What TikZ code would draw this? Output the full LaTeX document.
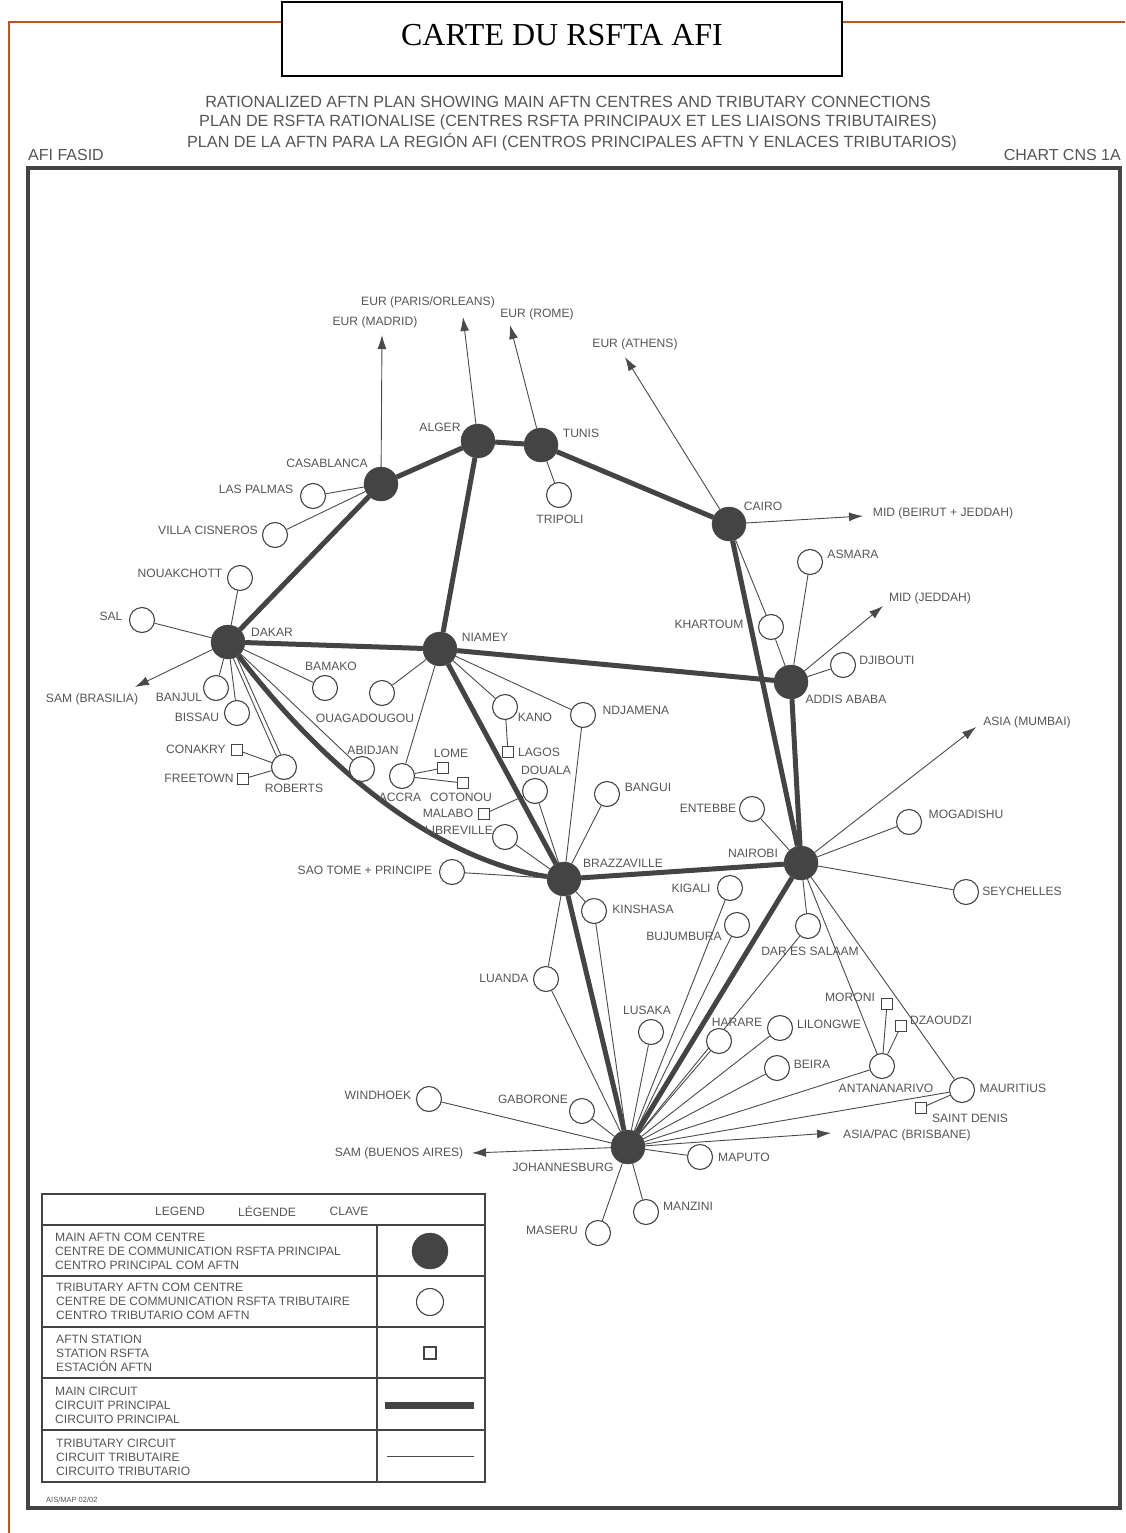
\documentclass[tikz,border=0pt]{standalone}
\usepackage{fontspec}
\setmainfont{Liberation Serif}
\newfontfamily\lbfam{Liberation Sans}
\usetikzlibrary{arrows.meta}
\definecolor{dk}{HTML}{444444}
\definecolor{ln}{HTML}{4a4a4a}
\definecolor{txt}{HTML}{555555}
\definecolor{brn}{HTML}{B4582A}
\pgfdeclarelayer{bg}
\pgfsetlayers{bg,main}
\newcommand\lbsize{\lbfam\fontsize{12.1}{14}\selectfont}
\begin{document}
\begin{tikzpicture}[x=1pt,y=-1pt,
  main/.style={circle,fill=dk,draw=dk,minimum size=34pt,inner sep=0pt},
  trib/.style={circle,draw=dk,line width=1.1pt,fill=white,minimum size=25pt,inner sep=0pt},
  stn/.style={rectangle,draw=dk,line width=1.1pt,fill=white,minimum size=11pt,inner sep=0pt},
  lbl/.style={font=\lbsize,text=txt,inner sep=0pt},
  hdr/.style={lbl,font=\lbfam\fontsize{16.2}{18}\selectfont},
  mainline/.style={line width=5pt,draw=dk},
  tline/.style={line width=0.9pt,draw=ln},
  extline/.style={tline,-{Latex[length=14pt,width=9pt]}},
  frame/.style={draw=dk,line width=1.5pt}]
\useasboundingbox (0,0) rectangle (1125,1533);
% outer brown frame and title
\draw[brn,line width=2pt] (282,22) -- (9,22) -- (9,1533);
\draw[brn,line width=2pt] (842,22) -- (1125,22);
\node[draw=black,line width=1.5pt,minimum width=560pt,minimum height=74pt,inner sep=0pt] (titlebox) at (562,39) {};
\node[inner sep=0pt,font=\fontsize{32}{36}\selectfont] (title) at (562,35) {CARTE DU RSFTA AFI};
% subtitle
\node[hdr] (sub1) at (568,102) {RATIONALIZED AFTN PLAN SHOWING MAIN AFTN CENTRES AND TRIBUTARY CONNECTIONS};
\node[hdr] (sub2) at (568,122) {PLAN DE RSFTA RATIONALISE (CENTRES RSFTA PRINCIPAUX ET LES LIAISONS TRIBUTAIRES)};
\node[hdr] (sub3) at (572,142) {PLAN DE LA AFTN PARA LA REGIÓN AFI (CENTROS PRINCIPALES AFTN Y ENLACES TRIBUTARIOS)};
\node[hdr,font=\lbfam\fontsize{16}{18}\selectfont,anchor=west] (fasid) at (28,155) {AFI FASID};
\node[hdr,font=\lbfam\fontsize{16}{18}\selectfont,anchor=east] (cns) at (1121,155) {CHART CNS 1A};
% inner frame
\draw[draw=dk,line width=3.5pt] (28,168) rectangle (1120,1508);

% main centres
\node[main] (alger) at (478,441) {};
\node[main] (tunis) at (541,445) {};
\node[main] (casa) at (381,484) {};
\node[main] (cairo) at (729,524) {};
\node[main] (dakar) at (228,642) {};
\node[main] (niamey) at (440,649) {};
\node[main] (addis) at (791,682) {};
\node[main] (brazza) at (564,879) {};
\node[main] (nairobi) at (801,863) {};
\node[main] (joburg) at (628,1147) {};
% tributary centres
\node[trib] (laspalmas) at (313,496) {};
\node[trib] (villa) at (275,535) {};
\node[trib] (tripoli) at (559,495) {};
\node[trib] (nouak) at (240,578) {};
\node[trib] (sal) at (142,620) {};
\node[trib] (bamako) at (325,688) {};
\node[trib] (ouaga) at (382,693) {};
\node[trib] (banjul) at (216,688) {};
\node[trib] (bissau) at (237,713) {};
\node[trib] (roberts) at (284,767) {};
\node[trib] (abidjan) at (362,769) {};
\node[trib] (accra) at (402,776) {};
\node[trib] (kano) at (505,707) {};
\node[trib] (ndjamena) at (583,715) {};
\node[trib] (douala) at (535,791) {};
\node[trib] (bangui) at (607,794) {};
\node[trib] (libreville) at (505,837) {};
\node[trib] (saotome) at (452,872) {};
\node[trib] (kinshasa) at (594,911) {};
\node[trib] (luanda) at (546,979) {};
\node[trib] (khartoum) at (771,627) {};
\node[trib] (asmara) at (810,562) {};
\node[trib] (djibouti) at (843,665) {};
\node[trib] (entebbe) at (752,809) {};
\node[trib] (mogadishu) at (909,822) {};
\node[trib] (seychelles) at (966,892) {};
\node[trib] (kigali) at (730,888) {};
\node[trib] (bujumbura) at (737,925) {};
\node[trib] (dar) at (808,926) {};
\node[trib] (lusaka) at (651,1032) {};
\node[trib] (harare) at (719,1041) {};
\node[trib] (lilongwe) at (780,1028) {};
\node[trib] (beira) at (777,1068) {};
\node[trib] (antana) at (882,1066) {};
\node[trib] (mauritius) at (962,1090) {};
\node[trib] (windhoek) at (429,1099) {};
\node[trib] (gaborone) at (582,1111) {};
\node[trib] (maputo) at (700,1157) {};
\node[trib] (manzini) at (646,1212) {};
\node[trib] (maseru) at (598,1233) {};
% stations
\node[stn] (conakry) at (237,750) {};
\node[stn] (freetown) at (243,779) {};
\node[stn] (lome) at (443,768) {};
\node[stn] (cotonou) at (463,783) {};
\node[stn] (lagos) at (508,752) {};
\node[stn] (malabo) at (484,814) {};
\node[stn] (moroni) at (887,1004) {};
\node[stn] (dzaoudzi) at (901,1026) {};
\node[stn] (stdenis) at (921,1108) {};
% external tips
\coordinate (madrid) at (382,335);
\coordinate (paris) at (463,317);
\coordinate (rome) at (510,325);
\coordinate (athens) at (625,357);
\coordinate (midbj) at (863,516);
\coordinate (midj) at (883,606);
\coordinate (mumbai) at (976,727);
\coordinate (brasilia) at (135,687);
\coordinate (buenos) at (472,1153);
\coordinate (brisbane) at (831,1133);

\begin{pgfonlayer}{bg}
% main circuits
\draw[mainline] (casa) -- (alger);
\draw[mainline] (alger) -- (tunis);
\draw[mainline] (tunis) -- (cairo);
\draw[mainline] (casa) -- (dakar);
\draw[mainline] (alger) -- (niamey);
\draw[mainline] (dakar) -- (niamey);
\draw[mainline] (niamey) -- (addis);
\draw[mainline] (niamey) -- (brazza);
\draw[mainline] (dakar) .. controls (336,783) and (448,862) .. (brazza);
\draw[mainline] (brazza) -- (nairobi);
\draw[mainline] (cairo) -- (nairobi);
\draw[mainline] (addis) -- (nairobi);
\draw[mainline] (brazza) -- (joburg);
\draw[mainline] (nairobi) -- (joburg);
% external links
\draw[extline] (casa) -- (madrid);
\draw[extline] (alger) -- (paris);
\draw[extline] (tunis) -- (rome);
\draw[extline] (cairo) -- (athens);
\draw[extline] (cairo) -- (midbj);
\draw[extline] (addis) -- (midj);
\draw[extline] (nairobi) -- (mumbai);
\draw[extline] (dakar) -- (brasilia);
\draw[extline] (joburg) -- (buenos);
\draw[extline] (joburg) -- (brisbane);
% tributary circuits
\draw[tline] (casa) -- (laspalmas);
\draw[tline] (casa) -- (villa);
\draw[tline] (tunis) -- (tripoli);
\draw[tline] (dakar) -- (nouak);
\draw[tline] (dakar) -- (sal);
\draw[tline] (dakar) -- (banjul);
\draw[tline] (dakar) -- (bissau);
\draw[tline] (dakar.-72) -- (roberts.125);
\draw[tline] (dakar.-60) -- (roberts.105);
\draw[tline] (dakar) -- (bamako);
\draw[tline] (dakar) -- (abidjan);
\draw[tline] (roberts) -- (conakry);
\draw[tline] (roberts) -- (freetown);
\draw[tline] (niamey) -- (ouaga);
\draw[tline] (niamey) -- (accra);
\draw[tline] (niamey) -- (kano);
\draw[tline] (niamey) -- (ndjamena);
\draw[tline] (accra) -- (lome);
\draw[tline] (accra) -- (cotonou);
\draw[tline] (kano) -- (lagos);
\draw[tline] (douala) -- (malabo);
\draw[tline] (brazza) -- (douala);
\draw[tline] (brazza) -- (bangui);
\draw[tline] (brazza) -- (ndjamena);
\draw[tline] (brazza) -- (libreville);
\draw[tline] (brazza) -- (saotome);
\draw[tline] (brazza) -- (kinshasa);
\draw[tline] (brazza) -- (luanda);
\draw[tline] (cairo) -- (khartoum);
\draw[tline] (khartoum) -- (addis);
\draw[tline] (asmara) -- (addis);
\draw[tline] (djibouti) -- (addis);
\draw[tline] (nairobi) -- (entebbe);
\draw[tline] (nairobi) -- (mogadishu);
\draw[tline] (nairobi) -- (seychelles);
\draw[tline] (nairobi) -- (dar);
\draw[tline] (nairobi) -- (antana);
\draw[tline] (nairobi) -- (mauritius);
\draw[tline] (joburg) -- (luanda);
\draw[tline] (joburg) -- (kinshasa);
\draw[tline] (joburg) -- (lusaka);
\draw[tline] (joburg) -- (kigali);
\draw[tline] (joburg) -- (bujumbura);
\draw[tline] (joburg) -- (harare);
\draw[tline] (joburg) -- (dar);
\draw[tline] (joburg) -- (lilongwe);
\draw[tline] (joburg) -- (beira);
\draw[tline] (joburg) -- (antana);
\draw[tline] (joburg) -- (mauritius);
\draw[tline] (joburg) -- (maputo);
\draw[tline] (joburg) -- (manzini);
\draw[tline] (joburg) -- (maseru);
\draw[tline] (joburg) -- (windhoek);
\draw[tline] (joburg) -- (gaborone);
\draw[tline] (antana) -- (moroni);
\draw[tline] (antana) -- (dzaoudzi);
\draw[tline] (mauritius) -- (stdenis);
\end{pgfonlayer}

% labels
\node[lbl] (t-madrid) at (375,322) {EUR (MADRID)};
\node[lbl] (t-paris) at (428,302) {EUR (PARIS/ORLEANS)};
\node[lbl] (t-rome) at (537,314) {EUR (ROME)};
\node[lbl] (t-athens) at (635,344) {EUR (ATHENS)};
\node[lbl] (t-alger) at (440,427) {ALGER};
\node[lbl] (t-tunis) at (581,433) {TUNIS};
\node[lbl] (t-casa) at (327,463) {CASABLANCA};
\node[lbl] (t-laspalmas) at (256,489) {LAS PALMAS};
\node[lbl] (t-villa) at (208,530) {VILLA CISNEROS};
\node[lbl] (t-tripoli) at (560,519) {TRIPOLI};
\node[lbl] (t-cairo) at (763,506) {CAIRO};
\node[lbl] (t-midbj) at (943,513) {MID (BEIRUT + JEDDAH)};
\node[lbl] (t-asmara) at (853,554) {ASMARA};
\node[lbl] (t-midj) at (930,598) {MID (JEDDAH)};
\node[lbl] (t-nouak) at (180,573) {NOUAKCHOTT};
\node[lbl] (t-sal) at (111,616) {SAL};
\node[lbl] (t-dakar) at (272,632) {DAKAR};
\node[lbl] (t-niamey) at (485,637) {NIAMEY};
\node[lbl] (t-khartoum) at (709,624) {KHARTOUM};
\node[lbl] (t-djibouti) at (887,660) {DJIBOUTI};
\node[lbl] (t-bamako) at (331,666) {BAMAKO};
\node[lbl] (t-brasilia) at (92,699) {SAM (BRASILIA)};
\node[lbl] (t-banjul) at (179,697) {BANJUL};
\node[lbl] (t-addis) at (846,699) {ADDIS ABABA};
\node[lbl] (t-bissau) at (197,717) {BISSAU};
\node[lbl] (t-ouaga) at (365,718) {OUAGADOUGOU};
\node[lbl] (t-kano) at (535,717) {KANO};
\node[lbl] (t-ndjamena) at (636,710) {NDJAMENA};
\node[lbl] (t-mumbai) at (1027,722) {ASIA (MUMBAI)};
\node[lbl] (t-conakry) at (196,749) {CONAKRY};
\node[lbl] (t-abidjan) at (373,750) {ABIDJAN};
\node[lbl] (t-lome) at (451,753) {LOME};
\node[lbl] (t-lagos) at (539,752) {LAGOS};
\node[lbl] (t-douala) at (546,770) {DOUALA};
\node[lbl] (t-freetown) at (199,778) {FREETOWN};
\node[lbl] (t-roberts) at (294,788) {ROBERTS};
\node[lbl] (t-accra) at (400,797) {ACCRA};
\node[lbl] (t-cotonou) at (461,797) {COTONOU};
\node[lbl] (t-bangui) at (648,787) {BANGUI};
\node[lbl] (t-entebbe) at (708,808) {ENTEBBE};
\node[lbl] (t-mogadishu) at (966,814) {MOGADISHU};
\node[lbl] (t-malabo) at (448,813) {MALABO};
\node[lbl] (t-libreville) at (459,830) {LIBREVILLE};
\node[lbl] (t-nairobi) at (753,853) {NAIROBI};
\node[lbl] (t-brazza) at (623,863) {BRAZZAVILLE};
\node[lbl] (t-saotome) at (365,870) {SAO TOME + PRINCIPE};
\node[lbl] (t-seychelles) at (1022,891) {SEYCHELLES};
\node[lbl] (t-kigali) at (691,888) {KIGALI};
\node[lbl] (t-kinshasa) at (643,909) {KINSHASA};
\node[lbl] (t-bujumbura) at (684,936) {BUJUMBURA};
\node[lbl] (t-dar) at (810,951) {DAR ES SALAAM};
\node[lbl] (t-luanda) at (504,978) {LUANDA};
\node[lbl] (t-moroni) at (850,997) {MORONI};
\node[lbl] (t-lusaka) at (647,1010) {LUSAKA};
\node[lbl] (t-dzaoudzi) at (941,1020) {DZAOUDZI};
\node[lbl] (t-harare) at (737,1022) {HARARE};
\node[lbl] (t-lilongwe) at (829,1024) {LILONGWE};
\node[lbl] (t-beira) at (812,1064) {BEIRA};
\node[lbl] (t-antana) at (886,1088) {ANTANANARIVO};
\node[lbl] (t-mauritius) at (1013,1088) {MAURITIUS};
\node[lbl] (t-windhoek) at (378,1095) {WINDHOEK};
\node[lbl] (t-gaborone) at (533,1099) {GABORONE};
\node[lbl] (t-stdenis) at (970,1118) {SAINT DENIS};
\node[lbl] (t-brisbane) at (907,1135) {ASIA/PAC (BRISBANE)};
\node[lbl] (t-buenos) at (399,1153) {SAM (BUENOS AIRES)};
\node[lbl] (t-maputo) at (744,1157) {MAPUTO};
\node[lbl] (t-joburg) at (563,1167) {JOHANNESBURG};
\node[lbl] (t-manzini) at (688,1206) {MANZINI};
\node[lbl] (t-maseru) at (552,1230) {MASERU};

% legend
\draw[frame] (42,1194) rectangle (485,1482);
\draw[frame] (42,1225) -- (485,1225);
\draw[frame] (42,1276) -- (485,1276);
\draw[frame] (42,1327) -- (485,1327);
\draw[frame] (42,1378) -- (485,1378);
\draw[frame] (42,1430) -- (485,1430);
\draw[frame] (377,1225) -- (377,1482);
\node[lbl] (h1) at (180,1211) {LEGEND};
\node[lbl] (h2) at (267,1211) {LÉGENDE};
\node[lbl] (h3) at (349,1211) {CLAVE};
\node[lbl,anchor=west,align=left] (r1) at (55,1251) {MAIN AFTN COM CENTRE\\CENTRE DE COMMUNICATION RSFTA PRINCIPAL\\CENTRO PRINCIPAL COM AFTN};
\node[lbl,anchor=west,align=left] (r2) at (56,1301) {TRIBUTARY AFTN COM CENTRE\\CENTRE DE COMMUNICATION RSFTA TRIBUTAIRE\\CENTRO TRIBUTARIO COM AFTN};
\node[lbl,anchor=west,align=left] (r3) at (56,1353) {AFTN STATION\\STATION RSFTA\\ESTACIÓN AFTN};
\node[lbl,anchor=west,align=left] (r4) at (55,1405) {MAIN CIRCUIT\\CIRCUIT PRINCIPAL\\CIRCUITO PRINCIPAL};
\node[lbl,anchor=west,align=left] (r5) at (56,1457) {TRIBUTARY CIRCUIT\\CIRCUIT TRIBUTAIRE\\CIRCUITO TRIBUTARIO};
\node[main,minimum size=36pt] (lg1) at (430,1251) {};
\node[trib,minimum size=27pt] (lg2) at (430,1302) {};
\node[stn,minimum size=12pt] (lg3) at (430,1353) {};
\coordinate (lg4a) at (385,1405);
\coordinate (lg4b) at (474,1405);
\draw[line width=7pt,draw=dk] (lg4a) -- (lg4b);
\coordinate (lg5a) at (387,1456);
\coordinate (lg5b) at (474,1456);
\draw[tline] (lg5a) -- (lg5b);
\node[lbl,font=\lbfam\fontsize{7.5}{9}\selectfont,anchor=west] (ais) at (46,1500) {AIS/MAP 02/02};
\end{tikzpicture}
\end{document}
